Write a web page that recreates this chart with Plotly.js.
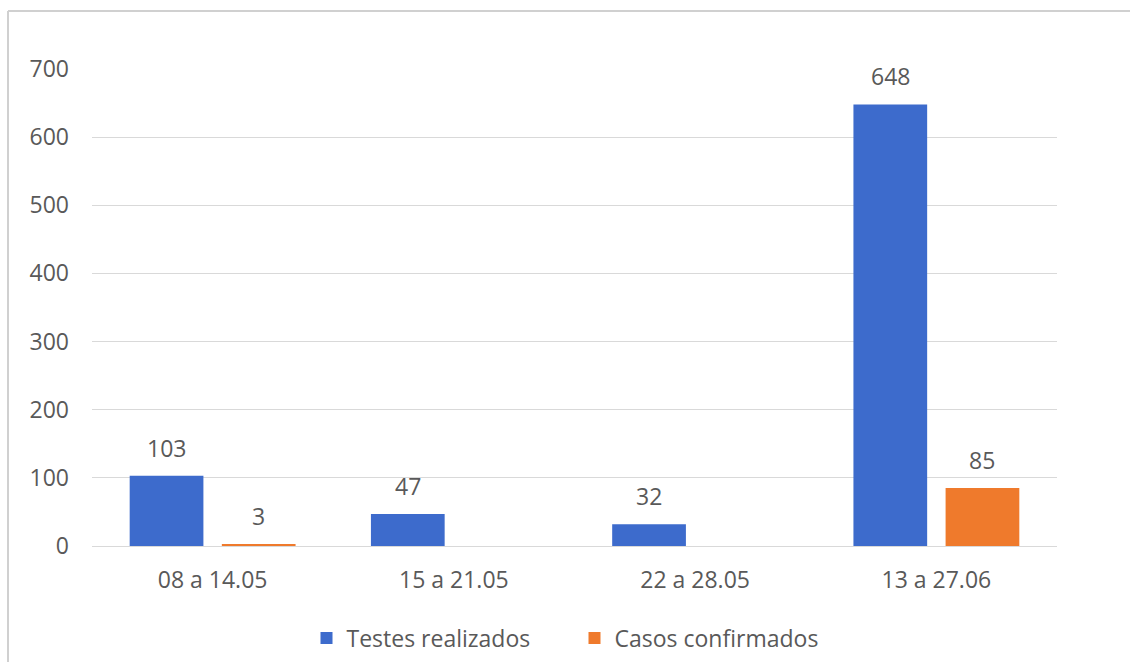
<!DOCTYPE html>
<html>
<head>
<meta charset="utf-8">
<script src="https://cdn.plot.ly/plotly-3.0.1.min.js"></script>
<style>html,body{margin:0;padding:0;background:#fff;}#chart{width:1130px;height:662px;}</style>
</head>
<body>
<div id="chart"></div>
<script>
const categories = ["08 a 14.05", "15 a 21.05", "22 a 28.05", "13 a 27.06"];
const testesRealizados = [103, 47, 32, 648];
const casosConfirmados = [3, null, null, 85];
const seriesNames = ["Testes realizados", "Casos confirmados"];
const yTicks = [0, 100, 200, 300, 400, 500, 600, 700];

const txtColor = "#595959";
const font = {family: "'Open Sans', sans-serif", size: 23, color: txtColor};

const traces = [
  {type: "bar", name: seriesNames[0], x: categories, y: testesRealizados,
   marker: {color: "#3d6bcc", line: {width: 0}}, hoverinfo: "x+y"},
  {type: "bar", name: seriesNames[1], x: categories, y: casosConfirmados,
   marker: {color: "#ef7a2c", line: {width: 0}}, hoverinfo: "x+y"}
];

const annotations = [];
const shift = 46;
[testesRealizados, casosConfirmados].forEach((arr, si) => {
  arr.forEach((v, i) => {
    if (v === null) return;
    annotations.push({x: categories[i], y: v, xref: "x", yref: "y", text: String(v),
      showarrow: false, xshift: si === 0 ? -shift : shift, yshift: 28,
      yanchor: "middle", font: font});
  });
});

const layout = {
  width: 1130, height: 662,
  margin: {l: 92, r: 73, t: 69, b: 116, autoexpand: false},
  paper_bgcolor: "#fff", plot_bgcolor: "#fff",
  font: font,
  barmode: "group", bargap: 0.236, bargroupgap: 0.2,
  showlegend: true,
  legend: {orientation: "h", x: 0.5, xanchor: "center", y: -0.193, yanchor: "middle",
    font: font, itemwidth: 30, entrywidth: 223, tracegroupgap: 0, traceorder: "normal"},
  xaxis: {type: "category", showgrid: false, showline: false, zeroline: false,
    ticks: "", ticklabelstandoff: 18, tickfont: font},
  yaxis: {range: [0, 700], tickvals: yTicks, showgrid: true, gridcolor: "#d9d9d9", gridwidth: 1,
    zeroline: true, zerolinecolor: "#d9d9d9", zerolinewidth: 1, showline: false, ticks: "",
    ticklabelstandoff: 22, tickfont: font, fixedrange: true},
  annotations: annotations,
  shapes: [
    {type: "line", xref: "paper", yref: "paper", x0: -84/965, x1: 73/965 + 1, y0: 1 + 58/477, y1: 1 + 58/477,
      line: {color: "#d0d0d0", width: 2}},
    {type: "line", xref: "paper", yref: "paper", x0: -84/965, x1: -84/965, y0: 1 + 58/477, y1: -116/477,
      line: {color: "#d0d0d0", width: 2}}
  ]
};

Plotly.newPlot("chart", traces, layout, {displayModeBar: false, staticPlot: true});
</script>
</body>
</html>
